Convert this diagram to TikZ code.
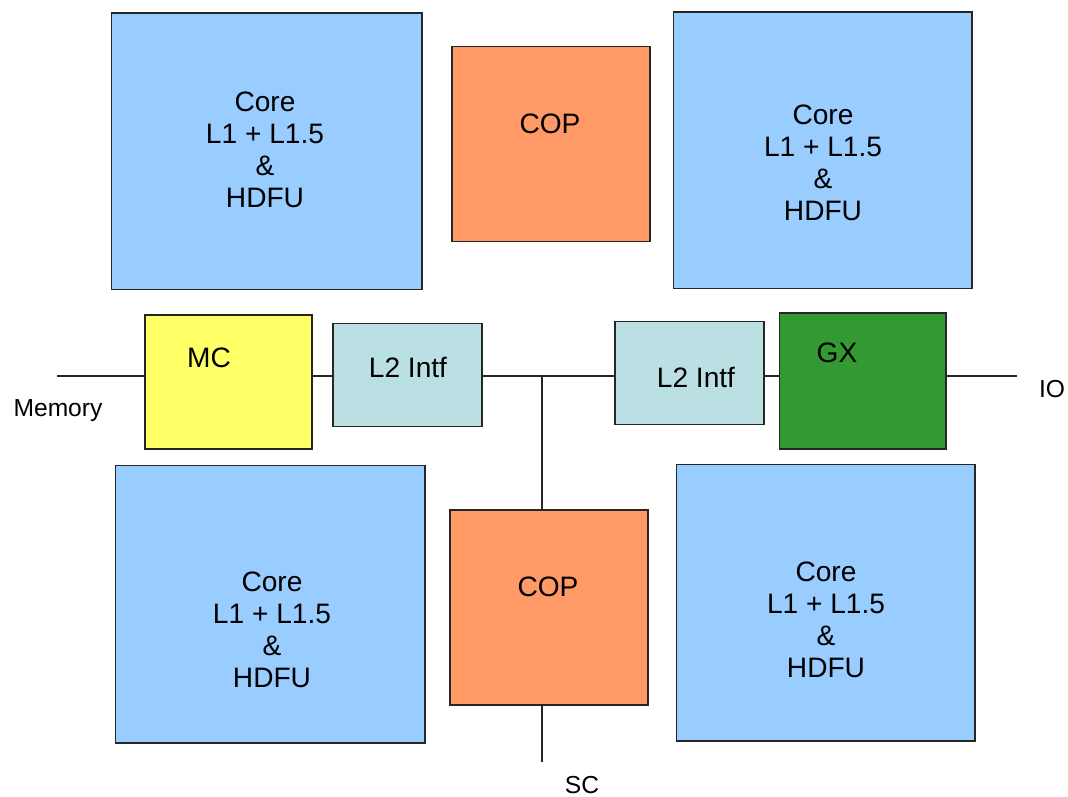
\documentclass[tikz,border=0pt]{standalone}
\usepackage{fontspec}
\setmainfont{Liberation Sans}
\usetikzlibrary{calc}
\definecolor{coreblue}{HTML}{99CCFF}
\definecolor{copor}{HTML}{FF9966}
\definecolor{mcyel}{HTML}{FFFF66}
\definecolor{intfcy}{HTML}{BBE0E3}
\definecolor{gxgreen}{HTML}{339933}
\begin{document}
\begin{tikzpicture}[x=0.02cm, y=-0.02cm, box/.style={draw=black!85, line width=0.6pt, inner sep=0pt},
		core/.style={box, fill=coreblue, minimum width=6.1cm, minimum height=5.54cm},
		cop/.style={box, fill=copor, minimum width=3.96cm, minimum height=3.9cm},
		intf/.style={box, fill=intfcy, minimum width=2.98cm, minimum height=2.06cm},
		txt/.style={align=center, font=\fontsize{16}{18.1}\selectfont},
		side/.style={font=\fontsize{14}{16}\selectfont},
		bus/.style={draw=black!85, line width=0.6pt}]
		\useasboundingbox (0,0) rectangle (1068,797);
		\node[core, minimum width=6.22cm] (coreTL) at (266.5,151.5) {};
		\node[cop] (copT) at (551,144) {};
		\node[core, minimum width=5.98cm] (coreTR) at (822.5,150.5) {};
		\node[box, fill=mcyel, minimum width=3.34cm, minimum height=2.68cm] (mc) at (228.5,382) {};
		\node[intf] (intfL) at (407.5,375) {};
		\node[intf] (intfR) at (689.5,373) {};
		\node[box, fill=gxgreen, minimum width=3.34cm, minimum height=2.72cm] (gx) at (862.5,381) {};
		\node[core, minimum width=6.2cm, minimum height=5.56cm] (coreBL) at (270,604) {};
		\node[cop] (copB) at (549,607.5) {};
		\node[core, minimum width=5.98cm] (coreBR) at (825.5,602.5) {};
		% texts
		\node[txt] (tTL) at (265,150) {Core\\L1 + L1.5\\\&\\HDFU};
		\node[txt] (tTR) at (823,163) {Core\\L1 + L1.5\\\&\\HDFU};
		\node[txt] (tBL) at (272,630) {Core\\L1 + L1.5\\\&\\HDFU};
		\node[txt] (tBR) at (826,620) {Core\\L1 + L1.5\\\&\\HDFU};
		\node[txt] (tcopT) at (550,124) {COP};
		\node[txt] (tcopB) at (548,587) {COP};
		\node[txt] (tmc) at (209,358) {MC};
		\node[txt] (tintfL) at (408,367) {L2 Intf};
		\node[txt] (tintfR) at (696,377) {L2 Intf};
		\node[txt] (tgx) at (837,353) {GX};
		\node[side] (memory) at (58,411) {Memory};
		\node[side] (io) at (1052,389) {IO};
		\node[side] (sc) at (582,785) {SC};
		% bus
		\coordinate (memEnd) at (57,376);
		\coordinate (ioEnd) at (1017,376);
		\coordinate (jn) at (542,376);
		\coordinate (scEnd) at (542,762);
		\draw[bus] (memEnd) -- (memEnd -| mc.west);
		\draw[bus] (memEnd -| mc.east) -- (memEnd -| intfL.west);
		\draw[bus] (memEnd -| intfL.east) -- (memEnd -| intfR.west);
		\draw[bus] (memEnd -| intfR.east) -- (memEnd -| gx.west);
		\draw[bus] (memEnd -| gx.east) -- (ioEnd);
		\draw[bus] (jn) -- (jn |- copB.north);
		\draw[bus] (jn |- copB.south) -- (scEnd);
	\end{tikzpicture}
\end{document}
